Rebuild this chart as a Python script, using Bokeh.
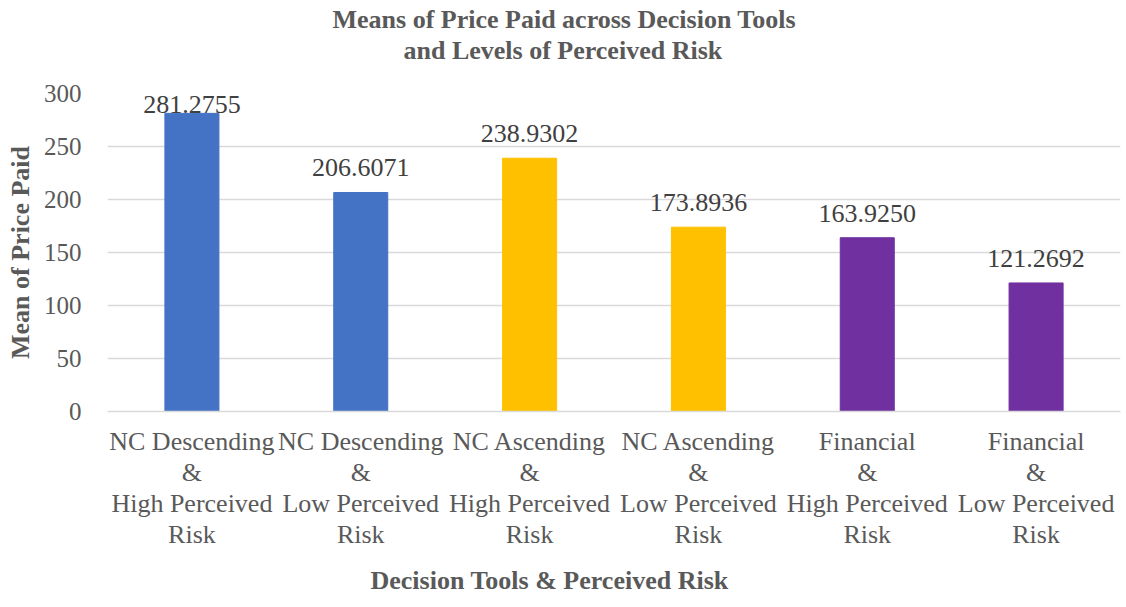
from bokeh.plotting import figure
from bokeh.models import ColumnDataSource, Range1d, FixedTicker, LabelSet, Title
from bokeh.core.properties import value
from bokeh.embed import file_html
from bokeh.resources import INLINE

categories = [
    "NC Descending\n&\nHigh Perceived\nRisk",
    "NC Descending\n&\nLow Perceived\nRisk",
    "NC Ascending\n&\nHigh Perceived\nRisk",
    "NC Ascending\n&\nLow Perceived\nRisk",
    "Financial\n&\nHigh Perceived\nRisk",
    "Financial\n&\nLow Perceived\nRisk",
]
means = [281.2755, 206.6071, 238.9302, 173.8936, 163.9250, 121.2692]
mean_labels = ["281.2755", "206.6071", "238.9302", "173.8936", "163.9250", "121.2692"]
bar_colors = ["#4472C4", "#4472C4", "#FFC000", "#FFC000", "#7030A0", "#7030A0"]
label_lift = [0, 16, 16, 16, 16, 16]
y_ticks = [0, 50, 100, 150, 200, 250, 300]

title_lines = ["Means of Price Paid across Decision Tools", "and Levels of Perceived Risk"]
title_offsets = [225, 296]
x_title = "Decision Tools & Perceived Risk"
y_title = "Mean of Price Paid"

FONT = "Liberation Serif"
GREY = "#595959"

src = ColumnDataSource(dict(cat=categories, mean=means, label=mean_labels,
                            color=bar_colors, lift=label_lift))

p = figure(x_range=categories, y_range=Range1d(0, 300), width=1126, height=607,
           output_backend="svg", toolbar_location=None,
           min_border_left=107, min_border_right=6, min_border_top=93, min_border_bottom=196)
p.outline_line_color = None
p.background_fill_color = "white"

p.vbar(x="cat", top="mean", width=0.32, color="color", source=src)

labels = LabelSet(x="cat", y="mean", text="label", y_offset="lift", source=src,
                  text_align="center", text_baseline="alphabetic",
                  text_font=value(FONT), text_font_size="26px", text_color="#404040")
p.add_layout(labels)

# axes
p.xaxis.axis_line_color = "#D9D9D9"
p.xaxis.axis_line_width = 1.5
p.xaxis.major_tick_line_color = None
p.xaxis.minor_tick_line_color = None
p.xaxis.major_label_text_font = FONT
p.xaxis.major_label_text_font_size = "26px"
p.xaxis.major_label_text_color = GREY
p.xaxis.major_label_standoff = 9
p.xaxis.major_label_text_line_height = 1.07

p.yaxis.ticker = FixedTicker(ticks=y_ticks)
p.yaxis.axis_line_color = None
p.yaxis.major_tick_line_color = None
p.yaxis.minor_tick_line_color = None
p.yaxis.major_label_text_font = FONT
p.yaxis.major_label_text_font_size = "25px"
p.yaxis.major_label_text_color = GREY
p.yaxis.major_label_standoff = 20
p.yaxis.axis_label = y_title
p.yaxis.axis_label_text_font = FONT
p.yaxis.axis_label_text_font_size = "26px"
p.yaxis.axis_label_text_font_style = "bold"
p.yaxis.axis_label_text_color = GREY
p.yaxis.axis_label_standoff = 6

p.xgrid.grid_line_color = None
p.ygrid.ticker = FixedTicker(ticks=y_ticks)
p.ygrid.grid_line_color = "#D9D9D9"
p.ygrid.grid_line_width = 1.5

# two-line chart title, each line centred over the chart area, plus a spacer above the frame
spacer = Title(text=" ", text_font_size="1px", standoff=26)
t2 = Title(text=title_lines[1], align="left", offset=title_offsets[1], standoff=0,
           text_font=FONT, text_font_size="26px", text_font_style="bold", text_color=GREY)
t1 = Title(text=title_lines[0], align="left", offset=title_offsets[0], standoff=0,
           text_font=FONT, text_font_size="26px", text_font_style="bold", text_color=GREY)
p.add_layout(spacer, "above")
p.add_layout(t2, "above")
p.add_layout(t1, "above")

p.add_layout(Title(text=x_title, align="left", offset=263, standoff=24,
                   text_baseline="middle",
                   text_font=FONT, text_font_size="26px", text_font_style="bold",
                   text_color=GREY), "below")

open("out.html", "w").write(file_html(p, INLINE))
